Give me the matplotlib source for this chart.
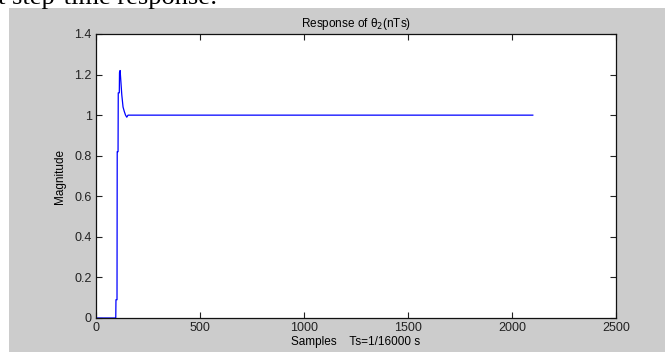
import matplotlib.pyplot as plt
from matplotlib.patches import Rectangle

# breakpoints of the step response (sample index, magnitude)
samples = [0, 95, 96, 101, 102, 106, 107, 112, 113, 116, 120, 124, 130, 136, 142, 148, 154, 2100]
magnitude = [0, 0, 0.09, 0.09, 0.82, 0.82, 1.11, 1.11, 1.21, 1.22, 1.16, 1.10, 1.04, 1.018, 1.0, 0.99, 1.0, 1.0]

xticks = [0, 500, 1000, 1500, 2000, 2500]
yticks = [0, 0.2, 0.4, 0.6, 0.8, 1, 1.2, 1.4]
ytick_labels = ['0', '0.2', '0.4', '0.6', '0.8', '1', '1.2', '1.4']

plt.rcParams['font.family'] = ['Liberation Sans', 'DejaVu Sans']

fig = plt.figure(figsize=(6.65, 3.52), dpi=100, facecolor='white')

# grey MATLAB figure window area
fig.patches.append(Rectangle((9 / 665, 0), 1, 1 - 8 / 352, transform=fig.transFigure,
                             facecolor='#cccccc', edgecolor='none', zorder=-10))

# cut-off line of document text above the figure
fig.text(-0.003, 1 - 4 / 352, 't step-time response:', family='Liberation Serif',
         fontsize=19, ha='left', va='baseline', color='black')

ax = fig.add_axes([96 / 665, 34 / 352, 520 / 665, 284 / 352])
ax.plot(samples, magnitude, color='#0000ff', linewidth=0.9)

ax.set_xlim(0, 2500)
ax.set_ylim(0, 1.4)
ax.set_xticks(xticks)
ax.set_yticks(yticks)
ax.set_yticklabels(ytick_labels)
ax.tick_params(direction='in', length=4, width=0.8, top=True, right=True,
               labelsize=9, colors='#222222', pad=3)
for s in ax.spines.values():
    s.set_linewidth(0.9)
    s.set_color('#111111')

ax.set_title('Response of θ$_2$(nTs)', fontsize=8.5, pad=5)
ax.set_ylabel('Magnitude', fontsize=8.5, labelpad=6)
ax.set_xlabel('Samples    Ts=1/16000 s', fontsize=8.5, labelpad=1)

fig.savefig('out.png', dpi=100, facecolor='white')
